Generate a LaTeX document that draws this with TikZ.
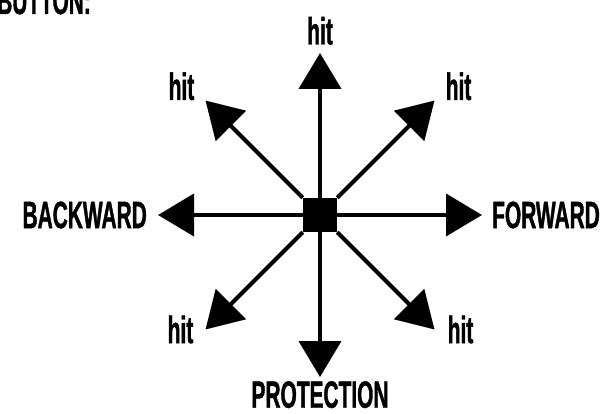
\documentclass[tikz,border=0pt]{standalone}
\usepackage{fontspec}
\newfontfamily\cnfont{Liberation Sans Bold}[FakeStretch=0.55, FakeBold=1]
\usetikzlibrary{arrows.meta,positioning}
\tikzset{
lbl/.style = {inner sep=0pt, font=\cnfont\fontsize{38}{38}\selectfont},
hub/.style = {fill=black, rectangle, minimum size=34pt, inner sep=0pt},
ray/.style = {line width=4pt, -{Triangle[length=36pt,width=42pt]}}
}

\begin{document}
\begin{tikzpicture}[x=1pt, y=-1pt]
   \useasboundingbox (0,0) rectangle (605,414);
   \node [lbl, anchor=base west] (title) at (-3,14) {BUTTON:};
   \node [hub] (hub) at (320,215) {};
   % ends of the eight rays
   \foreach \a/\n in {0/E,45/SE,90/S,135/SW,180/W,225/NW,270/N,315/NE} {
     \path (hub.center) ++(\a:162) coordinate (t\n);
     \draw [ray] (hub) -- (t\n);
   }
   \node [lbl, above=8pt of tN] (hitN) {hit};
   \node [lbl, anchor=south east] (hitNW) at ([xshift=-11pt]tNW) {hit};
   \node [lbl, anchor=south west] (hitNE) at ([xshift=11pt]tNE) {hit};
   \node [lbl, left=11pt of tW] (back) {BACKWARD};
   \node [lbl, right=10pt of tE] (fwd) {FORWARD};
   \node [lbl, left=12pt of tSW] (hitSW) {hit};
   \node [lbl, right=13pt of tSE] (hitSE) {hit};
   \node [lbl, below=4pt of tS] (prot) {PROTECTION};
\end{tikzpicture}
\end{document}
